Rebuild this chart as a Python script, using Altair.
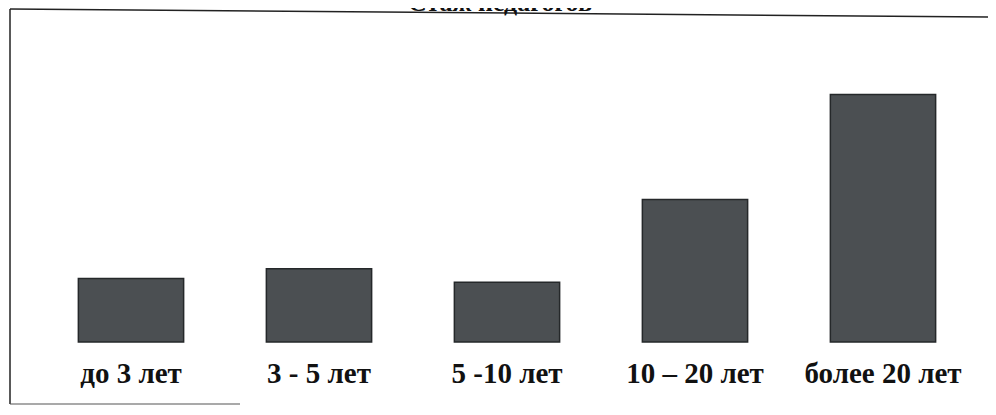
import altair as alt
import pandas as pd

categories = ["до 3 лет", "3 - 5 лет", "5 -10 лет", "10 – 20 лет", "более 20 лет"]
values = [5.2, 6.0, 4.9, 11.7, 20.3]
title_text = "Стаж педагогов"

df = pd.DataFrame({"cat": categories, "val": values})
one = pd.DataFrame({"t": [title_text]})

W, H = 980, 399
xscale = alt.Scale(domain=categories, range=[29, 969], paddingInner=0.44, paddingOuter=0.22)
yscale = alt.Scale(domain=[0, 27.4], range=[334, 0])

bars = alt.Chart(df).mark_bar(color="#4b4f52", stroke="#25282a", strokeWidth=1.5).encode(
    x=alt.X("cat:N", scale=xscale, axis=None, sort=categories),
    y=alt.Y("val:Q", scale=yscale, axis=None),
)

labels = alt.Chart(df).mark_text(
    font="Liberation Serif", fontWeight="bold", fontSize=29,
    baseline="alphabetic", color="#111111"
).encode(
    x=alt.X("cat:N", scale=xscale, axis=None, sort=categories),
    y=alt.value(375),
    text="cat:N",
)

title = alt.Chart(one).mark_text(
    font="Liberation Serif", fontWeight="bold", fontSize=26,
    baseline="alphabetic", color="#111111"
).encode(
    x=alt.value(492), y=alt.value(3), text="t:N"
)

top_line = alt.Chart(one).mark_rule(color="#222222", strokeWidth=1.5).encode(
    x=alt.value(2), x2=alt.value(980), y=alt.value(1), y2=alt.value(9)
)
left_line = alt.Chart(one).mark_rule(color="#222222", strokeWidth=1.5).encode(
    x=alt.value(2), y=alt.value(1), y2=alt.value(396)
)
bottom_line = alt.Chart(one).mark_rule(color="#555555", strokeWidth=1.2).encode(
    x=alt.value(2), x2=alt.value(232), y=alt.value(396)
)

chart = alt.layer(top_line, left_line, bottom_line, bars, labels, title).properties(
    width=W, height=H, autosize=alt.AutoSizeParams(type="none"), padding=0
).configure_view(strokeWidth=0)

chart.save("out.html", embed_options={"renderer": "svg", "actions": False})
